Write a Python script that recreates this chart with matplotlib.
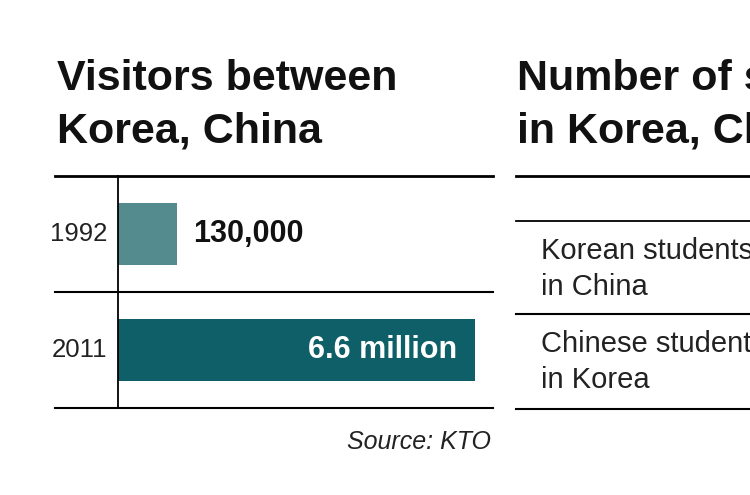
import matplotlib.pyplot as plt
from matplotlib.lines import Line2D

plt.rcParams['font.family'] = ['Liberation Sans', 'DejaVu Sans']

# data
years = ['1992', '2011']
visitors = [130000, 6600000]
value_labels = ['130,000', '6.6 million']
bar_colors = ['#538b8e', '#0e5f67']

table_rows = ['Korean students\nin China', 'Chinese students\nin Korea']

W, H = 750, 495
fig = plt.figure(figsize=(W / 100, H / 100), dpi=100)
fig.patch.set_facecolor('white')


def fx(x):
    return x / W


def fy(y):
    return 1 - y / H


def hline(x0, x1, y, lw):
    fig.add_artist(Line2D([fx(x0), fx(x1)], [fy(y), fy(y)], color='black',
                          lw=lw, transform=fig.transFigure))


title_kw = dict(fontsize=31, fontweight='bold', va='baseline', color='#111111')

# ---- left panel: visitors bar chart ----
fig.text(fx(57), fy(90), 'Visitors between', **title_kw)
fig.text(fx(57), fy(142), 'Korea, China', **title_kw)

ax = fig.add_axes([fx(118), fy(408), fx(493) - fx(118), (408 - 176) / H])
ax.set_xscale('log')
x_lo, x_hi = 59700, 8.36e6
ax.set_xlim(x_lo, x_hi)
ax.set_ylim(2, 0)
pos = [i + 0.5 for i in range(len(years))]
widths = [v - x_lo for v in visitors]
ax.barh(pos, widths, left=x_lo, height=0.535, color=bar_colors)

for sp in ['top', 'right', 'bottom']:
    ax.spines[sp].set_visible(False)
ax.spines['left'].set_linewidth(1.3)
ax.set_xticks([])
ax.set_xticks([], minor=True)
ax.set_yticks([])

off = -63 / 375
for y, lw in [(0, 2.0), (1, 1.5), (2, 1.5)]:
    ax.plot([off, 1], [y, y], color='black', lw=lw,
            transform=ax.get_yaxis_transform(), clip_on=False)

for p, yr in zip(pos, years):
    ax.text(-0.028, p, yr, transform=ax.get_yaxis_transform(), ha='right',
            va='center', fontsize=18.5, color='#222222')

vmax = max(visitors)
for p, v, lab in zip(pos, visitors, value_labels):
    if v == vmax:
        ax.annotate(lab, xy=(v, p), xytext=(-13, 0), textcoords='offset points',
                    ha='right', va='center', fontsize=22, fontweight='bold',
                    color='white')
    else:
        ax.annotate(lab, xy=(v, p), xytext=(11.5, 0), textcoords='offset points',
                    ha='left', va='center', fontsize=22, fontweight='bold',
                    color='#111111')

fig.text(fx(491), fy(442), 'Source: KTO', fontsize=18, style='italic',
         ha='right', va='center', color='#222222')

# ---- right panel: students table (cropped) ----
fig.text(fx(517), fy(90), 'Number of students', **title_kw)
fig.text(fx(517), fy(142), 'in Korea, China', **title_kw)

hline(516, 750, 176, 2.0)
hline(516, 750, 221, 1.3)
hline(516, 750, 314, 1.5)
hline(516, 750, 409, 1.5)

row_centers = [269, 362]
for yc, txt in zip(row_centers, table_rows):
    fig.text(fx(541), fy(yc), txt, fontsize=21, va='center', ha='left',
             color='#222222', linespacing=1.4)

fig.savefig('out.png', dpi=100, facecolor='white')
